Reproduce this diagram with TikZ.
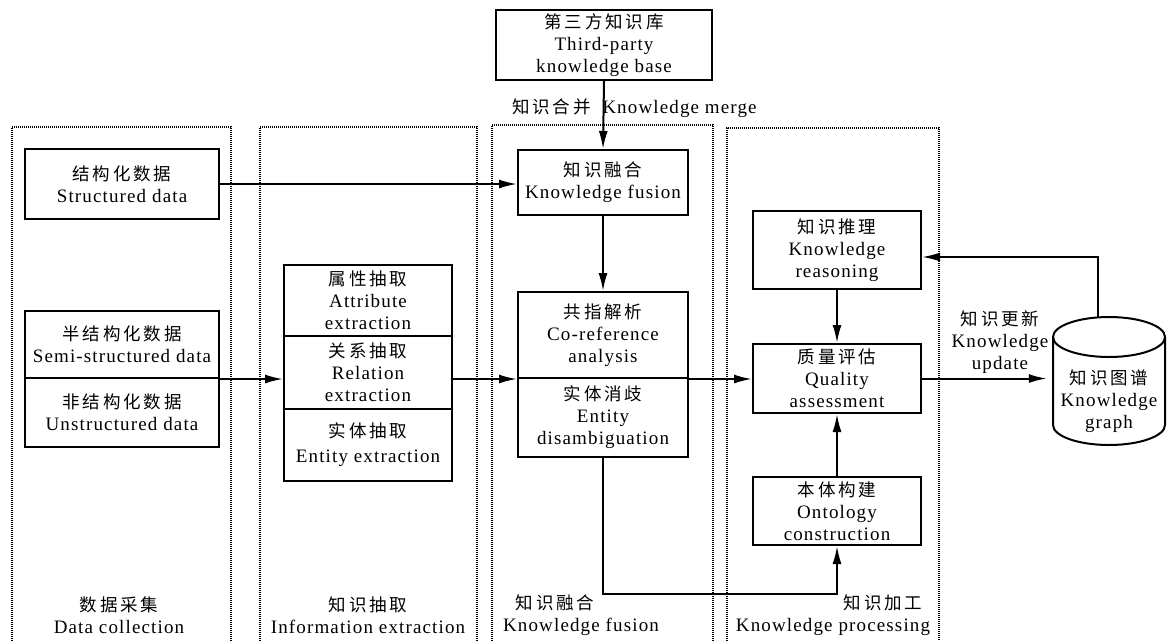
\documentclass[tikz,border=0pt]{standalone}
\usepackage{fontspec}
\setmainfont{Liberation Serif}[LetterSpace=6]
\newfontfamily\cjk{Noto Sans CJK SC}[LetterSpace=16]
\newcommand\zh[1]{{\cjk\fontsize{17.5}{22}\selectfont #1}}
\usetikzlibrary{arrows.meta}
\tikzset{
  box/.style={draw, line width=2pt, align=center, inner sep=0pt, minimum width=#1},
  box/.default=170pt,
  arr/.style={-{Latex[length=18pt,width=9pt]}, line width=2pt},
  ln/.style={line width=2pt},
  panel/.style={line width=1.3pt, dash pattern=on 1pt off 1pt},
  lbl/.style={align=center, inner sep=0pt}
}
\begin{document}
\begin{tikzpicture}[x=1pt,y=-1pt, font=\fontsize{19}{22}\selectfont]
\useasboundingbox (0,0) rectangle (1167,641);
% panels
\draw[panel] (12,641) |- (231,127) -- (231,641);
\draw[panel] (260,641) |- (477,127) -- (477,641);
\draw[panel] (492,641) |- (713,125) -- (713,641);
\draw[panel] (727,641) |- (939,128) -- (939,641);
% nodes
\node[box=216pt, minimum height=70pt] (tp) at (604,45) {\zh{第三方知识库}\\Third-party\\knowledge base};
\node[box=194pt, minimum height=70pt] (sd) at (122,184) {\zh{结构化数据}\\Structured data};
\node[box=194pt, minimum height=67pt] (semi) at (122,344.5) {\zh{半结构化数据}\\Semi-structured data};
\node[box=194pt, minimum height=69pt] (un) at (122,412.5) {\zh{非结构化数据}\\Unstructured data};
\node[box=168pt, minimum height=71pt] (attr) at (368,300.5) {\zh{属性抽取}\\Attribute\\extraction};
\node[box=168pt, minimum height=73pt] (rel) at (368,372.5) {\zh{关系抽取}\\Relation\\extraction};
\node[box=168pt, minimum height=72pt] (ent) at (368,445) {\zh{实体抽取}\\[3pt]Entity extraction};
\node[box=170pt, minimum height=65pt] (fus) at (603,182.5) {\zh{知识融合}\\Knowledge fusion};
\node[box=170pt, minimum height=86pt] (coref) at (603,335) {\zh{共指解析}\\Co-reference\\analysis};
\node[box=170pt, minimum height=79pt] (dis) at (603,417.5) {\zh{实体消歧}\\Entity\\disambiguation};
\node[box=168pt, minimum height=78pt] (reason) at (837,250) {\zh{知识推理}\\Knowledge\\reasoning};
\node[box=168pt, minimum height=69pt] (qual) at (837,378.5) {\zh{质量评估}\\Quality\\assessment};
\node[box=168pt, minimum height=68pt] (onto) at (837,511) {\zh{本体构建}\\Ontology\\construction};
% cylinder
\draw[ln] (1053,337) -- (1053,425) arc[start angle=180,end angle=360,x radius=56pt,y radius=20pt] -- (1165,337);
\draw[ln] (1109,337) ellipse[x radius=56pt, y radius=20pt];
\node[lbl, minimum width=112pt] (kg) at (1109,401) {\zh{知识图谱}\\Knowledge\\graph};
\coordinate (kgtop) at (1098,317.5);
\coordinate (kgup) at (1098,257);
\coordinate (lowturn) at (700,594);
% labels
\node[lbl, anchor=west] (merge) at (512,108) {\zh{知识合并}\ \ Knowledge merge};
\node[lbl] (upd) at (1000,342) {\zh{知识更新}\\Knowledge\\update};
\node[lbl] (l1) at (119,615) {\zh{数据采集}\\Data collection};
\node[lbl] (l2) at (368,615) {\zh{知识抽取}\\Information extraction};
\node[lbl] (l3a) at (555,603) {\zh{知识融合}};
\node[lbl] (l3b) at (581,627) {Knowledge fusion};
\node[lbl] (l4a) at (883,603) {\zh{知识加工}};
\node[lbl] (l4b) at (833,627) {Knowledge processing};
% connectors
\draw[arr] (tp.south) -- (fus.north);
\draw[arr] (sd.east) -- (sd.east -| fus.west);
\draw[arr] (semi.south east) -- (semi.south east -| rel.west);
\draw[arr] (rel.east |- coref.south) -- (coref.south west);
\draw[arr] (coref.south east) -- (coref.south east -| qual.west);
\draw[arr] (fus.south) -- (coref.north);
\draw[arr] (dis.south) |- (lowturn) -| (onto.south);
\draw[arr] (reason.south) -- (qual.north);
\draw[arr] (onto.north) -- (qual.south);
\draw[arr, shorten >=6pt] (qual.east) -- (qual.east -| kg.west);
\draw[arr] (kgtop) -- (kgup) -- (kgup -| reason.east);
\end{tikzpicture}
\end{document}
